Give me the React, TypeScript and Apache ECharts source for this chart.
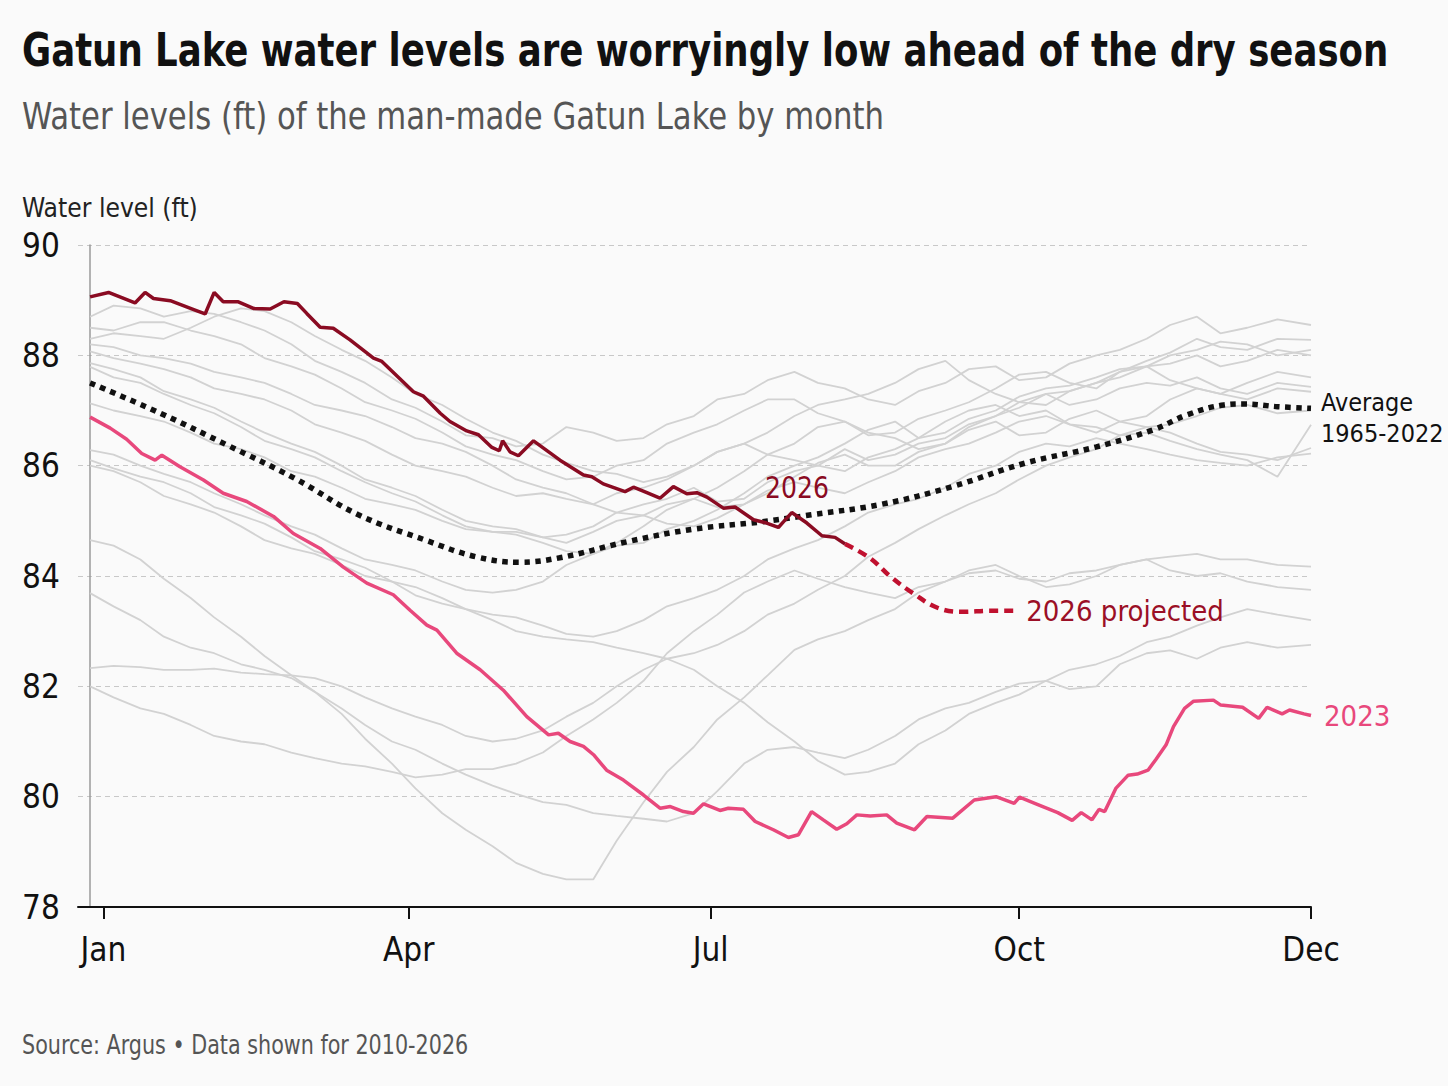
import React, { useEffect, useRef } from "react";
import * as echarts from "echarts";

// ---------- axis ticks ----------
const TICK_DAYS = [4, 95, 185, 277, 364];
const TICK_LABELS = ["Jan", "Apr", "Jul", "Oct", "Dec"];
const Y_TICKS = [78, 80, 82, 84, 86, 88, 90];

// ---------- historical years (gray), sampled about weekly ----------
const GRAY_DAYS = [0, 7, 15, 22, 30, 37, 45, 52, 60, 67, 75, 82, 90, 97, 105, 112, 120, 127, 135, 142, 150, 157, 165, 172, 180, 187, 195, 202, 210, 217, 225, 232, 240, 247, 255, 262, 270, 277, 285, 292, 300, 307, 315, 322, 330, 337, 345, 354, 364];
const gray01 = [88.7, 88.9, 88.85, 88.7, 88.8, 88.75, 88.6, 88.45, 88.2, 87.9, 87.7, 87.5, 87.2, 87.05, 86.8, 86.55, 86.5, 86.35, 86.4, 86.7, 86.6, 86.45, 86.5, 86.75, 86.9, 87.2, 87.3, 87.55, 87.7, 87.5, 87.4, 87.2, 87.1, 87.35, 87.5, 87.75, 87.8, 87.55, 87.6, 87.85, 88.0, 88.1, 88.3, 88.55, 88.7, 88.4, 88.5, 88.65, 88.55];
const gray02 = [88.5, 88.45, 88.6, 88.6, 88.45, 88.35, 88.2, 87.95, 87.8, 87.65, 87.4, 87.15, 87.0, 86.85, 86.6, 86.35, 86.2, 86.1, 85.9, 85.75, 85.8, 86.0, 86.1, 86.4, 86.6, 86.75, 87.0, 87.2, 87.2, 86.95, 86.8, 86.55, 86.6, 86.85, 87.0, 87.15, 87.4, 87.65, 87.7, 87.5, 87.4, 87.7, 87.9, 88.05, 88.3, 88.15, 88.1, 88.3, 88.28];
const gray03 = [88.3, 88.4, 88.35, 88.3, 88.5, 88.7, 88.85, 88.8, 88.6, 88.35, 88.1, 87.9, 87.6, 87.3, 87.1, 86.85, 86.6, 86.45, 86.2, 86.05, 85.9, 85.85, 85.7, 85.8, 86.0, 86.25, 86.4, 86.6, 86.9, 87.1, 87.2, 87.3, 87.5, 87.75, 87.9, 87.55, 87.3, 87.15, 87.1, 87.35, 87.5, 87.6, 87.8, 88.0, 88.1, 88.25, 88.2, 88.0, 88.1];
const gray04 = [88.2, 88.15, 88.0, 87.95, 87.85, 87.7, 87.6, 87.5, 87.3, 87.1, 87.0, 86.9, 86.7, 86.5, 86.4, 86.25, 86.0, 85.75, 85.6, 85.5, 85.3, 85.15, 85.1, 85.3, 85.4, 85.6, 85.9, 86.2, 86.4, 86.7, 86.8, 86.6, 86.5, 86.3, 86.4, 86.7, 86.9, 87.05, 87.3, 87.35, 87.5, 87.7, 87.8, 87.85, 88.0, 87.8, 87.9, 88.1, 88.0];
const gray05 = [88.07, 87.95, 87.85, 87.75, 87.6, 87.4, 87.3, 87.2, 87.0, 86.75, 86.6, 86.45, 86.2, 86.0, 85.9, 85.8, 85.6, 85.45, 85.5, 85.4, 85.3, 85.5, 85.6, 85.75, 86.0, 86.25, 86.4, 86.2, 86.1, 86.0, 85.9, 86.15, 86.3, 86.5, 86.8, 87.0, 87.1, 86.9, 87.0, 86.75, 86.6, 86.8, 86.9, 87.2, 87.4, 87.3, 87.5, 87.7, 87.6];
const gray06 = [87.86, 87.75, 87.6, 87.35, 87.2, 87.05, 86.8, 86.6, 86.4, 86.25, 86.0, 85.75, 85.6, 85.45, 85.2, 85.0, 84.9, 84.85, 84.7, 84.75, 84.9, 85.15, 85.3, 85.4, 85.6, 85.35, 85.4, 85.7, 85.9, 86.0, 86.3, 86.1, 86.2, 86.4, 86.5, 86.75, 86.9, 87.15, 87.3, 87.1, 87.2, 87.4, 87.5, 87.45, 87.6, 87.4, 87.3, 87.5, 87.43];
const gray07 = [87.79, 87.6, 87.5, 87.3, 87.1, 86.95, 86.7, 86.45, 86.3, 86.15, 85.9, 85.7, 85.5, 85.35, 85.1, 84.9, 84.8, 84.75, 84.6, 84.45, 84.4, 84.55, 84.6, 84.85, 85.0, 85.2, 85.5, 85.8, 86.0, 86.15, 86.4, 86.65, 86.8, 86.5, 86.6, 86.85, 87.0, 87.25, 87.4, 87.45, 87.6, 87.75, 87.8, 87.55, 87.4, 87.3, 87.2, 87.4, 87.34];
const gray08 = [87.13, 87.0, 86.9, 86.8, 86.6, 86.4, 86.3, 86.15, 85.9, 85.8, 85.6, 85.4, 85.3, 85.2, 85.0, 84.85, 84.8, 84.8, 84.7, 84.6, 84.8, 85.0, 85.1, 84.95, 84.9, 85.05, 85.3, 85.55, 85.7, 85.6, 85.5, 85.7, 85.9, 86.15, 86.3, 86.4, 86.6, 86.8, 86.9, 86.75, 86.7, 86.55, 86.6, 86.45, 86.3, 86.2, 86.1, 85.8, 86.74];
const gray09 = [86.28, 86.2, 86.0, 85.85, 85.7, 85.5, 85.3, 85.1, 84.9, 84.75, 84.5, 84.3, 84.2, 84.1, 83.9, 83.75, 83.7, 83.75, 83.9, 84.2, 84.4, 84.6, 84.9, 85.2, 85.4, 85.25, 85.3, 85.5, 85.8, 86.05, 86.2, 86.0, 86.0, 86.25, 86.4, 86.65, 86.8, 86.55, 86.6, 86.85, 87.0, 86.8, 86.7, 86.6, 86.4, 86.25, 86.2, 86.1, 86.32];
const gray10 = [86.0, 85.9, 85.7, 85.45, 85.3, 85.15, 84.9, 84.65, 84.5, 84.4, 84.2, 84.0, 83.9, 83.8, 83.6, 83.4, 83.3, 83.25, 83.1, 82.95, 82.9, 83.0, 83.2, 83.45, 83.6, 83.75, 84.0, 84.3, 84.5, 84.65, 84.9, 85.15, 85.3, 85.4, 85.6, 85.85, 86.0, 86.25, 86.4, 86.35, 86.5, 86.4, 86.3, 86.2, 86.1, 86.05, 86.0, 86.15, 86.22];
const gray11 = [86.1, 85.95, 85.8, 85.7, 85.5, 85.25, 85.1, 84.95, 84.7, 84.45, 84.3, 84.15, 83.9, 83.65, 83.5, 83.4, 83.2, 83.0, 82.9, 82.85, 82.8, 82.7, 82.6, 82.5, 82.3, 82.0, 81.7, 81.35, 81.0, 80.65, 80.4, 80.45, 80.6, 80.95, 81.2, 81.5, 81.7, 81.85, 82.1, 82.3, 82.4, 82.55, 82.8, 82.9, 83.1, 83.25, 83.4, 83.3, 83.2];
const gray12 = [83.69, 83.45, 83.2, 82.9, 82.7, 82.6, 82.4, 82.3, 82.15, 81.9, 81.6, 81.3, 81.0, 80.85, 80.6, 80.4, 80.2, 80.05, 79.9, 79.85, 79.7, 79.65, 79.6, 79.55, 79.7, 80.1, 80.6, 80.85, 80.9, 80.8, 80.7, 80.85, 81.1, 81.4, 81.6, 81.7, 81.9, 82.05, 82.1, 81.95, 82.0, 82.4, 82.6, 82.65, 82.5, 82.7, 82.8, 82.7, 82.75];
const gray13 = [84.65, 84.55, 84.3, 83.95, 83.6, 83.25, 82.9, 82.55, 82.2, 81.9, 81.5, 81.05, 80.6, 80.15, 79.7, 79.4, 79.1, 78.8, 78.6, 78.5, 78.5, 79.2, 79.9, 80.45, 80.9, 81.4, 81.8, 82.2, 82.66, 82.85, 83.0, 83.2, 83.4, 83.7, 83.9, 84.05, 84.1, 83.95, 83.9, 84.05, 84.1, 84.2, 84.3, 84.35, 84.4, 84.3, 84.3, 84.2, 84.17];
const gray14 = [82.0, 81.8, 81.6, 81.5, 81.3, 81.1, 81.0, 80.95, 80.8, 80.7, 80.6, 80.55, 80.45, 80.35, 80.4, 80.5, 80.5, 80.6, 80.8, 81.1, 81.4, 81.7, 82.1, 82.6, 83.0, 83.3, 83.7, 83.9, 84.1, 83.95, 83.8, 83.7, 83.6, 83.8, 83.9, 84.1, 84.2, 84.0, 83.8, 83.85, 84.0, 84.2, 84.3, 84.1, 84.0, 84.05, 83.9, 83.8, 83.75];
const gray15 = [82.33, 82.37, 82.35, 82.3, 82.3, 82.32, 82.25, 82.22, 82.2, 82.15, 82.0, 81.8, 81.6, 81.45, 81.3, 81.1, 81.0, 81.05, 81.2, 81.45, 81.7, 82.0, 82.3, 82.5, 82.6, 82.75, 83.0, 83.3, 83.5, 83.75, 84.0, 84.35, 84.6, 84.85, 85.1, 85.3, 85.5, 85.75, 86.0, 86.15, 86.3, 86.55, 86.7, 86.75, 86.9, 87.05, 87.1, 86.95, 87.0];
const GRAY_LINES = [gray01, gray02, gray03, gray04, gray05, gray06, gray07, gray08, gray09, gray10, gray11, gray12, gray13, gray14, gray15];

// ---------- average 1965-2022 ----------
const AVG_DAYS = [0, 21, 41, 61, 80, 100, 115, 128, 140, 160, 180, 200, 215, 236, 257, 279, 300, 317, 327, 338, 344, 354, 364];
const AVG_VALUES = [87.5, 86.95, 86.37, 85.77, 85.11, 84.65, 84.35, 84.25, 84.33, 84.62, 84.85, 84.98, 85.11, 85.3, 85.62, 86.05, 86.34, 86.65, 86.92, 87.1, 87.12, 87.07, 87.04];

// ---------- 2023 ----------
const Y2023_DAYS = [0, 6, 10.9, 15.4, 19.4, 21.4, 26.8, 33.8, 39.7, 46.7, 54.7, 60.6, 68.6, 75.5, 82.5, 90.4, 95.4, 100.4, 103.4, 109.3, 116.3, 123.2, 130.2, 136.7, 139.6, 143.1, 147.1, 150.1, 154, 159, 165, 170, 173, 176.9, 179.9, 182.9, 187.8, 190.3, 194.8, 198.3, 203.7, 208.2, 211.2, 215.1, 218.6, 222.6, 225.6, 228.6, 232.6, 237.5, 240.5, 245.8, 249.5, 257.2, 263.6, 270.1, 275.5, 277.1, 282, 288.5, 292.8, 295.5, 298.7, 300.8, 302.5, 305.8, 309.5, 312.2, 315.4, 317.7, 320.8, 323, 326.3, 329, 334.9, 337.1, 343.6, 348.4, 350.9, 355.4, 357.6, 361.9, 364];
const Y2023_VALUES = [86.88, 86.68, 86.48, 86.22, 86.1, 86.19, 85.98, 85.74, 85.5, 85.35, 85.08, 84.77, 84.5, 84.16, 83.87, 83.66, 83.38, 83.11, 83.02, 82.6, 82.3, 81.93, 81.45, 81.12, 81.15, 81.0, 80.91, 80.76, 80.48, 80.3, 80.03, 79.79, 79.82, 79.73, 79.7, 79.87, 79.75, 79.79, 79.77, 79.55, 79.4, 79.26, 79.31, 79.73, 79.58, 79.41, 79.51, 79.67, 79.65, 79.67, 79.52, 79.4, 79.64, 79.61, 79.94, 80.0, 79.88, 79.99, 79.87, 79.71, 79.57, 79.71, 79.58, 79.77, 79.73, 80.15, 80.39, 80.41, 80.48, 80.67, 80.94, 81.27, 81.6, 81.73, 81.75, 81.66, 81.62, 81.42, 81.62, 81.5, 81.57, 81.5, 81.47];

// ---------- 2026 (actual) ----------
const Y2026_DAYS = [0, 5.5, 13.4, 16.4, 18.9, 23.9, 31.3, 34.3, 37, 39.7, 44.2, 48.7, 53.7, 57.8, 61.8, 64.6, 68.6, 72.5, 77.5, 84.5, 87, 96.4, 99.4, 104.4, 107.3, 112.3, 115.8, 119.8, 122, 123, 125.2, 127.7, 132.2, 140.1, 147.1, 149.6, 153, 159.5, 162, 166, 169.9, 173.9, 177.9, 180.9, 183.9, 188.8, 192.3, 197.8, 201.7, 205.2, 206.7, 209.2, 213.7, 218.2, 222.1, 225.1];
const Y2026_VALUES = [89.06, 89.14, 88.95, 89.14, 89.03, 88.99, 88.82, 88.75, 89.14, 88.97, 88.97, 88.85, 88.84, 88.97, 88.94, 88.76, 88.51, 88.49, 88.28, 87.95, 87.89, 87.34, 87.26, 86.95, 86.8, 86.63, 86.56, 86.33, 86.27, 86.45, 86.25, 86.18, 86.45, 86.1, 85.83, 85.8, 85.67, 85.53, 85.61, 85.51, 85.41, 85.62, 85.49, 85.51, 85.43, 85.23, 85.25, 85.02, 84.96, 84.88, 84.98, 85.15, 84.96, 84.73, 84.7, 84.58];

// ---------- 2026 projected ----------
const PROJ_DAYS = [225.1, 232.6, 238.8, 245.3, 252.8, 260.4, 268, 275.5];
const PROJ_VALUES = [84.58, 84.32, 83.98, 83.69, 83.42, 83.35, 83.37, 83.37];

const FONT = '"Liberation Sans Narrow", "DejaVu Sans Condensed", "Roboto Condensed", Roboto, sans-serif';

const zip = (xs: number[], ys: number[]) => xs.map((x, i) => [x, ys[i]]);

export default function App() {
  const ref = useRef<HTMLDivElement>(null);

  useEffect(() => {
    if (!ref.current) return;
    const chart = echarts.init(ref.current, undefined, { renderer: "svg" });

    const graySeries = GRAY_LINES.map((vals, i) => ({
      name: "hist" + i,
      type: "line",
      data: zip(GRAY_DAYS, vals),
      showSymbol: false,
      symbol: "none",
      silent: true,
      lineStyle: { color: "#d2d2d2", width: 1.8 },
      z: 2,
    }));

    const txt = (text: string, x: number, y: number, font: string, fill: string, sx: number) => ({
      type: "text",
      x,
      y,
      scaleX: sx,
      z: 100,
      style: { text, font, fill, verticalAlign: "middle", textVerticalAlign: "middle" },
    });

    const option: any = {
      animation: false,
      backgroundColor: "#fafafa",
      textStyle: { fontFamily: FONT },
      grid: { left: 78, right: 137, top: 245, bottom: 179, containLabel: false },
      xAxis: {
        type: "value",
        min: -3.6,
        max: 364,
        axisLine: { show: true, lineStyle: { color: "#111", width: 2 } },
        axisTick: {
          show: true,
          customValues: TICK_DAYS,
          length: 12,
          inside: false,
          lineStyle: { color: "#111", width: 2 },
        },
        axisLabel: {
          customValues: TICK_DAYS,
          formatter: (v: number) => {
            const i = TICK_DAYS.indexOf(v);
            return i >= 0 ? TICK_LABELS[i] : "";
          },
          fontSize: 33,
          color: "#111",
          margin: 26,
          fontFamily: FONT,
        },
        splitLine: { show: false },
      },
      yAxis: {
        type: "value",
        min: Y_TICKS[0],
        max: Y_TICKS[Y_TICKS.length - 1],
        interval: 2,
        axisLine: { show: true, lineStyle: { color: "#9a9a9a", width: 1.5 } },
        axisTick: { show: false },
        axisLabel: {
          fontSize: 33,
          color: "#111",
          align: "left",
          margin: 56,
          fontFamily: FONT,
        },
        splitLine: { show: true, lineStyle: { color: "#c8c8c8", width: 1.2, type: [5, 4] } },
      },
      series: [
        ...graySeries,
        {
          name: "Average",
          type: "line",
          data: zip(AVG_DAYS, AVG_VALUES),
          smooth: 0.4,
          showSymbol: false,
          symbol: "none",
          lineStyle: { color: "#111", width: 5.5, type: [5.5, 5.5] },
          z: 4,
          endLabel: {
            show: true,
            formatter: "Average\n1965-2022",
            color: "#111",
            fontSize: 25,
            lineHeight: 31,
            fontFamily: FONT,
            distance: 10,
            offset: [0, 10],
          },
        },
        {
          name: "2023",
          type: "line",
          data: zip(Y2023_DAYS, Y2023_VALUES),
          showSymbol: false,
          symbol: "none",
          lineStyle: { color: "#e8487c", width: 3.5 },
          z: 5,
          endLabel: {
            show: true,
            formatter: "2023",
            color: "#e8487c",
            fontSize: 29,
            fontFamily: FONT,
            distance: 13,
          },
        },
        {
          name: "2026 projected",
          type: "line",
          data: zip(PROJ_DAYS, PROJ_VALUES),
          smooth: 0.4,
          showSymbol: false,
          symbol: "none",
          lineStyle: { color: "#c0112f", width: 4.5, type: [9, 6] },
          z: 6,
          endLabel: {
            show: true,
            formatter: "2026 projected",
            color: "#9b0f26",
            fontSize: 29,
            fontFamily: FONT,
            distance: 12,
          },
        },
        {
          name: "2026",
          type: "line",
          data: zip(Y2026_DAYS, Y2026_VALUES),
          showSymbol: false,
          symbol: "none",
          lineStyle: { color: "#8a0b22", width: 3.5 },
          z: 7,
        },
      ],
      graphic: [
        txt("Gatun Lake water levels are worryingly low ahead of the dry season", 22, 50, `bold 46px ${FONT}`, "#111", 0.859),
        txt("Water levels (ft) of the man-made Gatun Lake by month", 22, 116, `38px ${FONT}`, "#555", 0.898),
        txt("Water level (ft)", 22, 207, `27px ${FONT}`, "#222", 0.97),
        txt("2026", 765, 487, `31px ${FONT}`, "#8a0b22", 0.9),
        txt("Source: Argus • Data shown for 2010-2026", 22, 1045, `26px ${FONT}`, "#555", 0.885),
      ],
    };

    chart.setOption(option);
    return () => chart.dispose();
  }, []);

  return (
    <div
      ref={ref}
      style={{ position: "absolute", left: 0, top: 0, width: 1448, height: 1086 }}
    />
  );
}
